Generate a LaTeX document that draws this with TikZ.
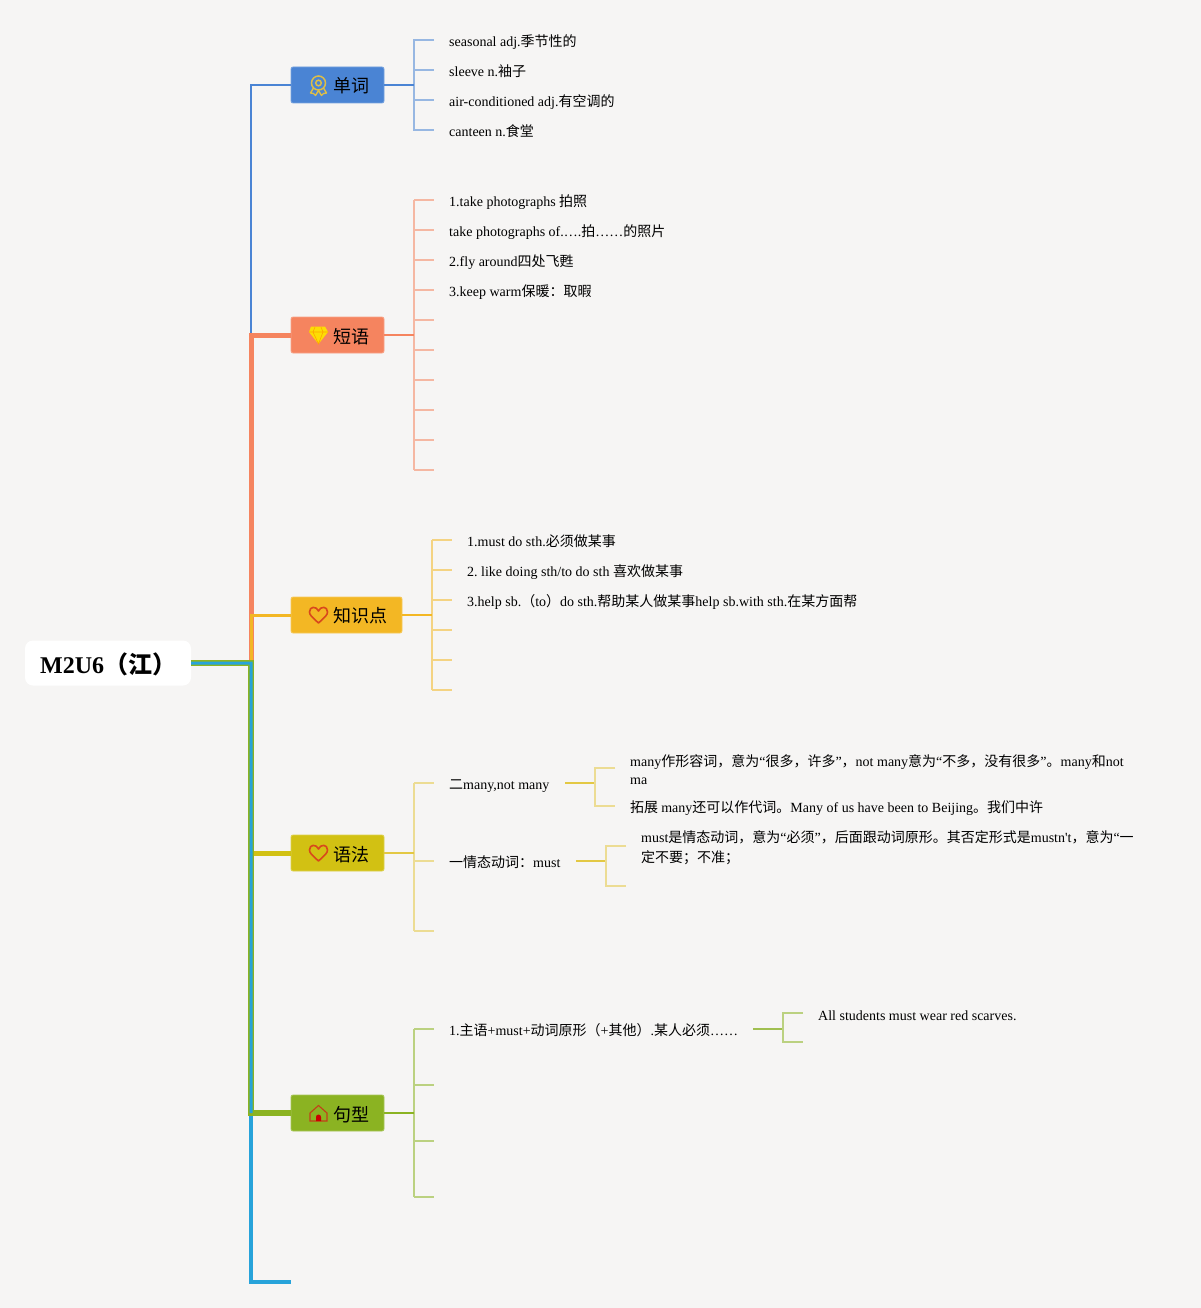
\documentclass[tikz,border=0pt]{standalone}
\usepackage{fontspec}
\setmainfont{Liberation Serif}
\newfontfamily\cjk{Noto Sans CJK SC}
\newfontfamily\plainrm{Liberation Serif}
\newcommand{\zh}[1]{{\cjk #1}}
\definecolor{bgc}{HTML}{F6F5F4}
\definecolor{cblue}{HTML}{4A84D4}
\definecolor{csal}{HTML}{F5845F}
\definecolor{corg}{HTML}{F3B724}
\definecolor{cyel}{HTML}{D2C113}
\definecolor{cyelb}{HTML}{E3C843}
\definecolor{cgrn}{HTML}{8BB322}
\definecolor{cgrnb}{HTML}{A0BF50}
\definecolor{ccya}{HTML}{27A3DA}
\definecolor{cicon}{HTML}{DDBE48}
\definecolor{cred}{HTML}{D8481C}
\tikzset{
 x=1pt,y=-1pt,
 rootbox/.style={fill=white,rounded corners=8pt,minimum width=166pt,minimum height=45pt,inner sep=0pt},
 topic/.style={fill=#1,draw=#1!75!white,line width=.8pt,rounded corners=2pt,minimum height=36pt,inner sep=0pt},
 toptext/.style={font=\cjk\fontsize{18}{18}\selectfont,anchor=base west,inner sep=0pt},
 leaf/.style={font=\fontsize{14}{20}\selectfont\frenchspacing,anchor=base west,inner sep=0pt,align=left},
 leafblock/.style={font=\fontsize{14}{#1}\selectfont\frenchspacing,anchor=north west,inner sep=0pt,align=left},
 trunk/.style={draw=#1,line join=miter},
 bar/.style={draw=#1,line width=1.6pt},
 stub/.style={draw=#1!55!bgc,line width=1.6pt},
}
\begin{document}
\begin{tikzpicture}
\path[fill=bgc] (0,0) rectangle (1201,1308);
\useasboundingbox (0,0) rectangle (1201,1308);
% nodes
\node[rootbox] (root) at (108,663) {};
\node[font=\fontsize{24}{24}\selectfont\bfseries,anchor=base west,inner sep=0pt] (roott) at (40,673.5) {M2U6\zh{（江）}};
\node[topic=cblue,minimum width=93pt] (t1) at (337.5,85) {};
\node[topic=csal,minimum width=93pt] (t2) at (337.5,335) {};
\node[topic=corg,minimum width=111pt] (t3) at (346.5,615) {};
\node[topic=cyel,minimum width=93pt] (t4) at (337.5,853) {};
\node[topic=cgrn,minimum width=93pt] (t5) at (337.5,1113) {};
\coordinate (t6) at (291,1282);
\node[toptext] (t1t) at (333.5,93) {单词};
\node[toptext] (t2t) at (333.5,343) {短语};
\node[toptext] (t3t) at (333.5,622.6) {知识点};
\node[toptext] (t4t) at (333.5,861) {语法};
\node[toptext] (t5t) at (333.5,1121) {句型};
% trunks
\coordinate (rr) at (root.east |- 0,663);
\coordinate (tj) at (251,1113);
\draw[trunk=cblue,line width=2pt] (251,663) -- (251,85) -- (t1.west);
\draw[trunk=csal,line width=5pt] (251,663) -- (251,335) -- (t2.west);
\draw[trunk=corg,line width=3pt] (251,663) -- (251,615) -- (t3.west);
\draw[trunk=cyel,line width=5pt] (251,800) -- (251,853) -- (t4.west);
\draw[trunk=cgrn,line width=5.2pt] (rr) -- (251,663) -- (tj) -- (t5.west);
\fill[ccya] (rr) ++(0,-1.5) -- (252.5,661.5) -- (252.5,1113) -- (249.5,1113) -- (249.5,664.5) -- (191,664.5) -- cycle;
\draw[trunk=ccya,line width=3.2pt] (251,1115.5) -- (251,1282) -- (t6);
% icons
\begin{scope}[shift={(318.5,83)}]
\draw[draw=cicon,line width=1.5pt] (0,0) circle (7pt);
\draw[draw=cicon,line width=1.5pt] (0,0) circle (2.8pt);
\draw[draw=cicon,line width=1.4pt,line join=round] (-5,5) -- (-8,10) -- (-5,10.5) -- (-3,12.5) -- (0,7.5) -- (3,12.5) -- (5,10.5) -- (8,10) -- (5,5);
\end{scope}
% diamond
\fill[fill=yellow!80!orange] (311,326.5) -- (325,326.5) -- (328,332) -- (318.5,344) -- (309,332) -- cycle;
\draw[draw=orange!70!yellow,line width=.6pt] (309,332) -- (328,332) (313,332) -- (318.5,344) -- (323,332) (313,332) -- (315,327) (323,332) -- (321,327);
% hearts
\foreach \yy in {615,853}{
\draw[draw=cred,line width=1.6pt,line join=round] (318.5,\yy+8) .. controls (312,\yy+2) and (309.5,\yy) .. (309.5,\yy-3) .. controls (309.5,\yy-9) and (316.5,\yy-9) .. (318.5,\yy-4) .. controls (320.5,\yy-9) and (327.5,\yy-9) .. (327.5,\yy-3) .. controls (327.5,\yy) and (325,\yy+2) .. (318.5,\yy+8) -- cycle;
}
% house
\draw[draw=cred!90!black,line width=1.1pt] (310,1121) -- (310,1113) -- (318.5,1105.5) -- (327,1113) -- (327,1121) -- cycle;
\fill[fill=red!80!black] (316,1121) -- (316,1117) arc[start angle=180,end angle=0,radius=2.5pt] -- (321,1121) -- cycle;
% branch 1
\coordinate (b1) at (414,85);
\foreach \n/\yy in {a/40,b/70,c/100,d/130}{\coordinate (s1\n) at (434,\yy);}
\draw[stub=cblue] (s1a) -- (414,40) -- (414,130) -- (s1d);
\draw[stub=cblue] (414,70) -- (s1b);
\draw[stub=cblue] (414,100) -- (s1c);
\draw[bar=cblue] (t1.east) -- (b1);
\node[leaf] (l11) at (449,46.7) {seasonal adj.\zh{季节性的}};
\node[leaf] (l12) at (449,76.7) {sleeve n.\zh{袖子}};
\node[leaf] (l13) at (449,106.7) {air-conditioned adj.\zh{有空调的}};
\node[leaf] (l14) at (449,136.7) {canteen n.\zh{食堂}};
% branch 2
\coordinate (b2) at (414,335);
\foreach \yy in {200,230,260,290,320,350,380,410,440,470}{\draw[stub=csal] (414,\yy) -- (434,\yy);}
\draw[stub=csal] (414,200) -- (414,470);
\draw[bar=csal] (t2.east) -- (b2);
\node[leaf] (l21) at (449,206) {1.take photographs \zh{拍照}};
\node[leaf] (l22) at (449,236) {take photographs of.….\zh{拍}……\zh{的照片}};
\node[leaf] (l23) at (449,266) {2.fly around\zh{四处飞甦}};
\node[leaf] (l24) at (449,296) {3.keep warm\zh{保暖：取暇}};
% branch 3
\coordinate (b3) at (432,615);
\foreach \yy in {540,570,600,630,660,690}{\draw[stub=corg] (432,\yy) -- (452,\yy);}
\draw[stub=corg] (432,540) -- (432,690);
\draw[bar=corg] (t3.east) -- (b3);
\node[leaf] (l31) at (467,546) {1.must do sth.\zh{必须做某事}};
\node[leaf] (l32) at (467,576) {2. like doing sth/to do sth \zh{喜欢做某事}};
\node[leaf] (l33) at (467,606) {3.help sb.\zh{（}to\zh{）}do sth.\zh{帮助某人做某事}help sb.with sth.\zh{在某方面帮}};
% branch 4
\coordinate (b4) at (414,853);
\foreach \yy in {783,861,931}{\draw[stub=cyelb] (414,\yy) -- (434,\yy);}
\draw[stub=cyelb] (414,783) -- (414,931);
\draw[bar=cyelb] (t4.east) -- (b4);
\node[leaf] (l41) at (449,789) {\zh{二}many,not many};
\node[leaf] (l42) at (449,867) {\zh{一情态动词：}must};
\draw[bar=cyelb] (565,783) -- (595,783);
\draw[stub=cyelb] (615,768) -- (595,768) -- (595,806) -- (615,806);
\node[leafblock=18] (l411) at (630,754) {many\zh{作形容词，意为}“\zh{很多，许多}”\zh{，}not many\zh{意为}“\zh{不多，没有很多}”\zh{。}many\zh{和}not\\ma};
\node[leaf] (l412) at (630,812.5) {\zh{拓展 }many\zh{还可以作代词。}Many of us have been to Beijing\zh{。我们中许}};
\draw[bar=cyelb] (576,861) -- (606,861);
\draw[stub=cyelb] (626,846) -- (606,846) -- (606,886) -- (626,886);
\node[leafblock=20] (l421) at (641,830) {must\zh{是情态动词，意为}“\zh{必须}”\zh{，后面跟动词原形。其否定形式是}mustn{\plainrm '}t\zh{，意为}“\zh{一}\\\zh{定不要；不准；}};
% branch 5
\coordinate (b5) at (414,1113);
\foreach \yy in {1029,1085,1141,1197}{\draw[stub=cgrn] (414,\yy) -- (434,\yy);}
\draw[stub=cgrn] (414,1029) -- (414,1197);
\draw[bar=cgrn] (t5.east) -- (b5);
\node[leaf] (l51) at (449,1035) {1.\zh{主语}+must+\zh{动词原形（}+\zh{其他）}.\zh{某人必须}……};
\draw[bar=cgrnb] (753,1029) -- (783,1029);
\draw[stub=cgrn] (803,1013) -- (783,1013) -- (783,1042) -- (803,1042);
\node[leaf] (l511) at (818,1020) {All students must wear red scarves.};
\end{tikzpicture}
\end{document}
